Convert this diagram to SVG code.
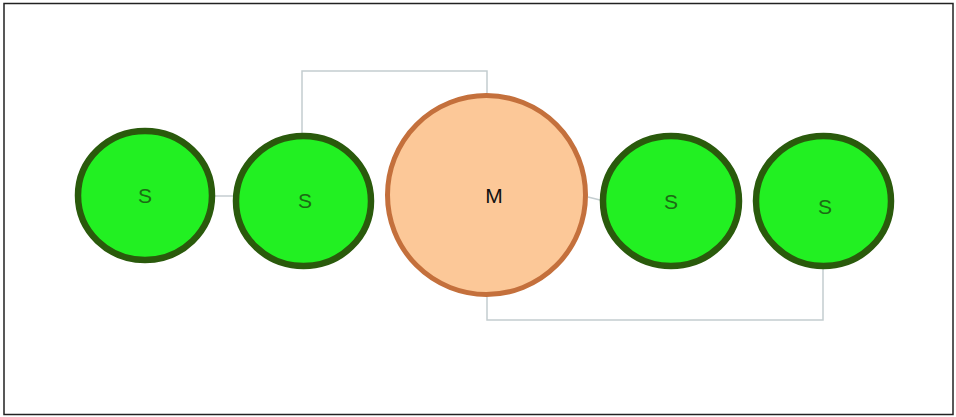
<svg xmlns="http://www.w3.org/2000/svg" width="956" height="417" viewBox="0 0 956 417">
<style>
.s{fill:#22f022;stroke:#2a5a0c;stroke-width:6.5}
.m{fill:#fcc898;stroke:#c4703c;stroke-width:5}
.c{fill:none;stroke:#c4cdd0;stroke-width:1.5}
.ts{font-family:"Liberation Sans",Arial,sans-serif;font-size:21px;fill:#1c6a14;text-anchor:middle}
.tm{font-family:"Liberation Sans",Arial,sans-serif;font-size:21px;fill:#111;text-anchor:middle}
</style>
<rect x="0" y="0" width="956" height="417" fill="#fff"/>
<rect x="4" y="3.5" width="949" height="411" fill="none" stroke="#222" stroke-width="1.5"/>
<g id="connectors">
<path class="c" d="M302,133 V71 H487 V93"/>
<path class="c" d="M487,297 V320 H823 V269"/>
<path class="c" d="M215,196 H233"/>
<path class="c" d="M588,197 L600,200"/>
</g>
<g id="s1"><ellipse class="s" cx="145" cy="195.5" rx="67" ry="64.5"/><text class="ts" x="145" y="203">S</text></g>
<g id="s2"><ellipse class="s" cx="303.5" cy="201" rx="67.5" ry="65"/><text class="ts" x="305" y="208">S</text></g>
<g id="m"><ellipse class="m" cx="486.5" cy="195" rx="99" ry="99.5"/><text class="tm" x="494" y="203">M</text></g>
<g id="s3"><ellipse class="s" cx="671" cy="201" rx="68" ry="65"/><text class="ts" x="671" y="209">S</text></g>
<g id="s4"><ellipse class="s" cx="823.5" cy="201" rx="67.5" ry="65"/><text class="ts" x="825" y="214">S</text></g>
</svg>
